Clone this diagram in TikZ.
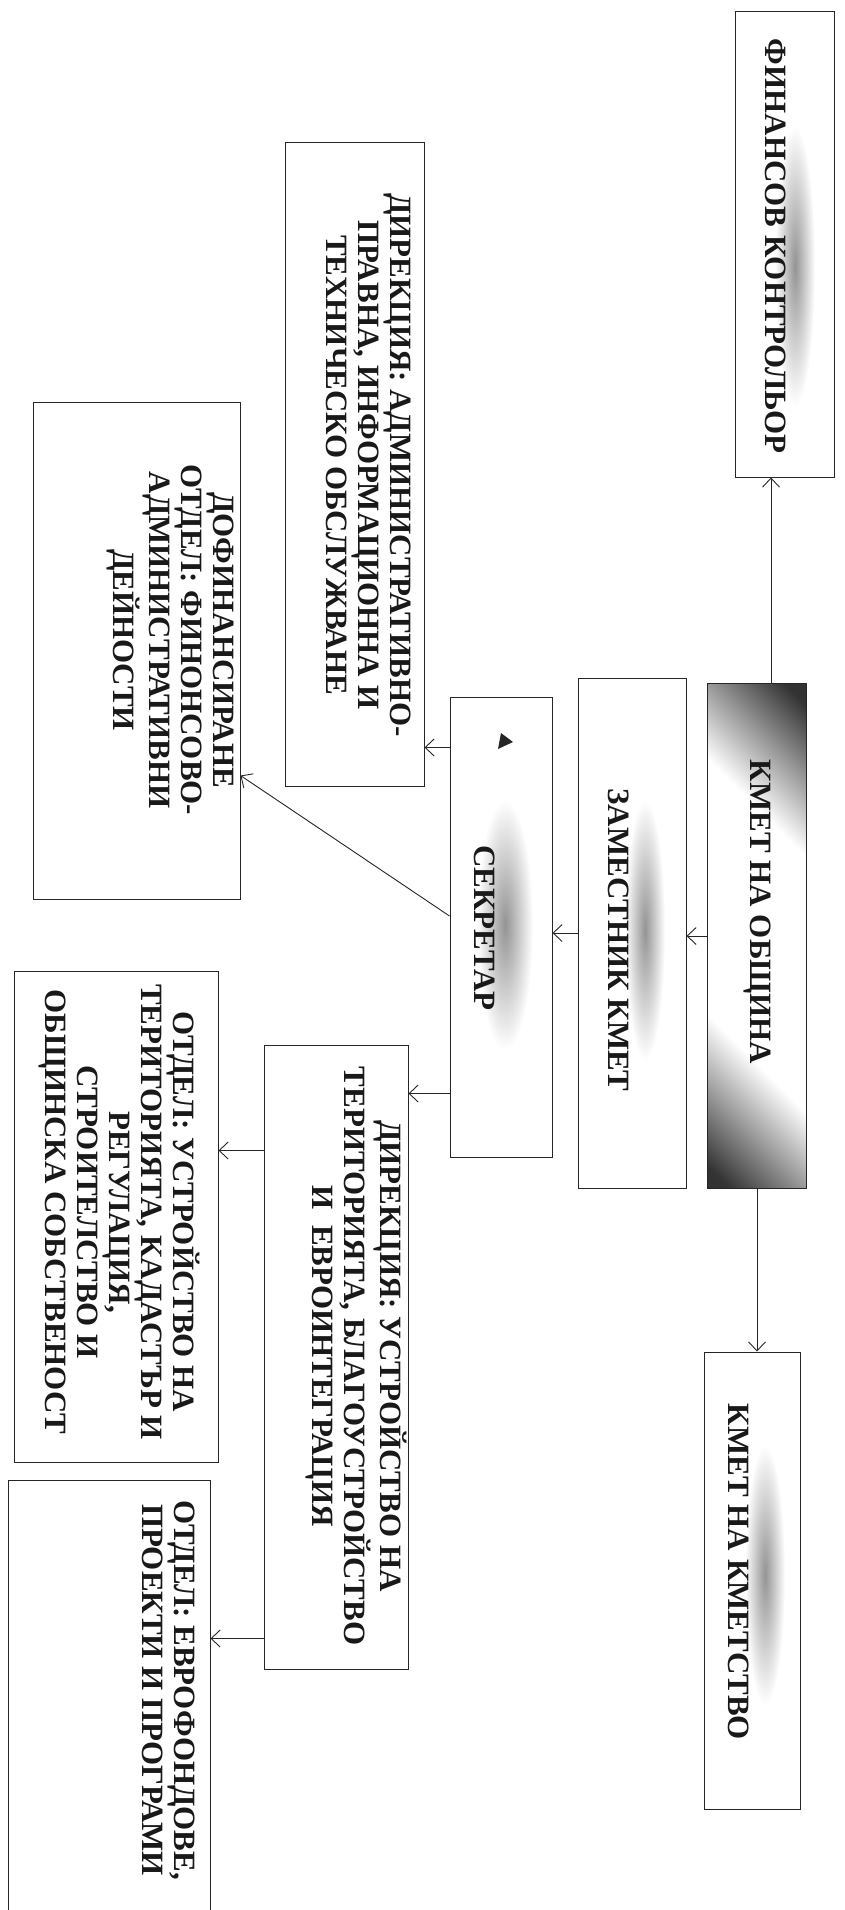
\documentclass[tikz,border=0pt]{standalone}
\usepackage{fontspec}
\setmainfont{Liberation Serif}
\usetikzlibrary{arrows.meta}
\pgfdeclareverticalshading{kmetsh}{100bp}{color(0bp)=(black!85); color(17bp)=(black!80); color(35bp)=(white); color(65bp)=(white); color(83bp)=(black!80); color(100bp)=(black!85)}
\newcommand{\vt}[1]{\rotatebox{-90}{\fontsize{31}{32}\selectfont\bfseries\begin{tabular}{@{}c@{}}#1\end{tabular}}}
\tikzset{
  bx/.style={draw=black!85, line width=1pt, inner sep=0pt, fill=white},
  txt/.style={inner sep=0pt, text=black!90},
  arr/.style={draw=black!85, line width=0.9pt, -{Straight Barb[length=9pt,width=17pt]}},
  smudge/.style={inner color=black!42, outer color=white}
}
\begin{document}
\begin{tikzpicture}[x=1pt,y=-1pt]
\useasboundingbox (0,0) rectangle (844,1910);
\fill[white] (0,0) rectangle (844,1910);
\clip (0,0) rectangle (844,1910);
% boxes
\node[bx, minimum width=99pt,  minimum height=465pt] (fin)   at (784.5,244.5) {};
\node[bx, minimum width=98pt,  minimum height=504pt] (kmet)  at (757,936) {};
\node[bx, minimum width=108pt, minimum height=510pt] (zam)   at (632,933) {};
\node[bx, minimum width=102pt, minimum height=460pt] (sek)   at (501,927) {};
\node[bx, minimum width=139pt, minimum height=643pt] (dadm)  at (354.5,464.5) {};
\node[bx, minimum width=207pt, minimum height=497pt] (dofin) at (136.5,650.5) {};
\node[bx, minimum width=144pt, minimum height=624pt] (dust)  at (336,1357) {};
\node[bx, minimum width=204pt, minimum height=491pt] (oust)  at (116,1216.5) {};
\node[bx, minimum width=202pt, minimum height=435pt] (oevro) at (109,1697.5) {};
\node[bx, minimum width=96pt,  minimum height=457pt] (kk)    at (752,1580.5) {};
% gradient of the mayor box
\shade[shading=kmetsh, shading angle=-45] (kmet.south west) rectangle (kmet.north east);
\draw[black!85, line width=1pt] (kmet.south west) rectangle (kmet.north east);
% smudges
\shade[smudge] (795,266) ellipse [x radius=20pt, y radius=140pt];
\shade[smudge] (645,930) ellipse [x radius=20pt, y radius=130pt];
\shade[smudge] (505,925) ellipse [x radius=28pt, y radius=125pt];
\shade[smudge] (765,1575) ellipse [x radius=20pt, y radius=130pt];
% texts
\node[txt] (fin-t)   at (772,246)  {\vt{ФИНАНСОВ КОНТРОЛЬОР}};
\node[txt] (kmet-t)  at (757,912)  {\vt{КМЕТ НА ОБЩИНА}};
\node[txt] (zam-t)   at (615,940)  {\vt{ЗАМЕСТНИК КМЕТ}};
\node[txt] (sek-t)   at (481,928)  {\vt{СЕКРЕТАР}};
\node[txt] (dadm-t)  at (365,465)  {\vt{ДИРЕКЦИЯ: АДМИНИСТРАТИВНО-\\ПРАВНА, ИНФОРМАЦИОННА И\\ТЕХНИЧЕСКО ОБСЛУЖВАНЕ}};
\node[txt] (dofin-t) at (170,640)  {\vt{ДОФИНАНСИРАНЕ\\ОТДЕЛ: ФИНОНСОВО-\\АДМИНИСТРАТИВНИ\\ДЕЙНОСТИ}};
\node[txt] (dust-t)  at (355,1356) {\vt{ДИРЕКЦИЯ: УСТРОЙСТВО НА\\ТЕРИТОРИЯТА, БЛАГОУСТРОЙСТВО\\И\ \ ЕВРОИНТЕГРАЦИЯ}};
\node[txt] (oust-t)  at (118,1212) {\vt{ОТДЕЛ: УСТРОЙСТВО НА\\ТЕРИТОРИЯТА, КАДАСТЪР И\\РЕГУЛАЦИЯ,\\СТРОИТЕЛСТВО И\\ОБЩИНСКА СОБСТВЕНОСТ}};
\node[txt] (oevro-t) at (165,1690) {\vt{ОТДЕЛ: ЕВРОФОНДОВЕ,\\ПРОЕКТИ И ПРОГРАМИ}};
\node[txt] (kk-t)    at (735,1572) {\vt{КМЕТ НА КМЕТСТВО}};
% small marker in the secretary box
\fill[black!85] (501,733) -- (498,749) -- (513,742) -- cycle;
% connectors
\coordinate (k1) at ([xshift=14pt]kmet.north);
\draw[arr] (k1) -- (k1 |- fin.south);
\draw[arr] (kmet.south) -- (kmet.south |- kk.north);
\draw[arr] (kmet.west) -- (kmet.west -| zam.east);
\draw[arr] (zam.west) -- (zam.west -| sek.east);
\coordinate (s1) at ([yshift=-51pt]sek.north west);
\draw[arr] (s1) -- (s1 -| dadm.east);
\coordinate (s2) at ([yshift=11pt]sek.west);
\coordinate (d2) at ([yshift=-125pt]dofin.east);
\draw[arr] (s2) -- (d2);
\coordinate (s3) at ([yshift=64pt]sek.south west);
\draw[arr] (s3) -- (s3 -| dust.east);
\coordinate (d3) at ([yshift=-106pt]dust.north west);
\draw[arr] (d3) -- (d3 -| oust.east);
\coordinate (d4) at ([yshift=31pt]dust.south west);
\draw[arr] (d4) -- (d4 -| oevro.east);
\end{tikzpicture}
\end{document}
